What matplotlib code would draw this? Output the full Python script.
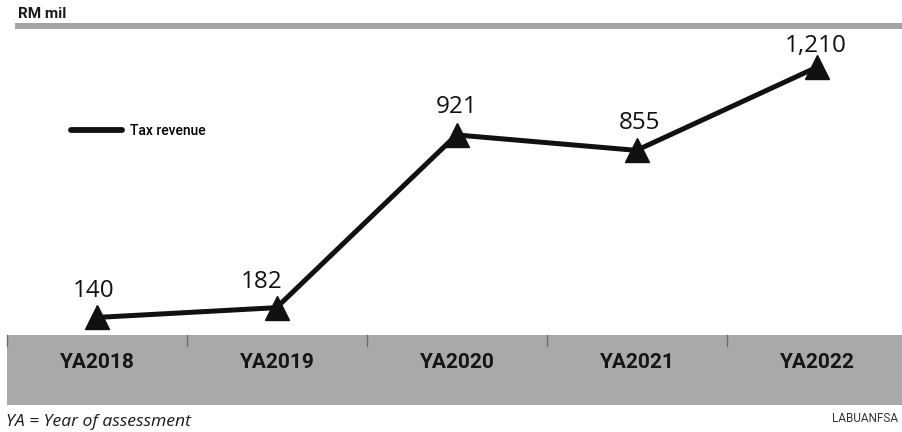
import matplotlib
matplotlib.use("Agg")
import matplotlib.pyplot as plt
from matplotlib.lines import Line2D

# ---- data ----
categories = ["YA2018", "YA2019", "YA2020", "YA2021", "YA2022"]
tax_revenue = [140, 182, 921, 855, 1210]
value_labels = ["140", "182", "921", "855", "1,210"]
series_name = "Tax revenue"
unit_label = "RM mil"
footnote = "YA = Year of assessment"
source = "LABUANFSA"

# ---- styling ----
W, H = 902, 432
DPI = 100
NARROW = ["Roboto", "DejaVu Sans"]
VALFONT = ["Open Sans", "DejaVu Sans"]
band_color = "#a9a9a9"
label_dx_px = [-3, -15, 0, 2.5, -1]
label_dy_px = [20, 20, 22, 21, 15]

fig = plt.figure(figsize=(W / DPI, H / DPI), dpi=DPI)
fig.patch.set_facecolor("white")

def fy(p):
    return 1 - p / H

left = 6.5 / W
width = 900 / W

# category band
band = fig.add_axes([left, fy(405), width, 70 / H], zorder=1)
band.set_facecolor(band_color)
band.set_xlim(-0.5, len(categories) - 0.5)
band.set_ylim(0, 1)
for s in band.spines.values():
    s.set_visible(False)
band.set_yticks([])
band.set_xticks([])
for i in range(len(categories) + 1):
    band.plot([i - 0.5, i - 0.5], [1, 0.84], color="#6e6e6e", lw=1.0, clip_on=False)
for i, c in enumerate(categories):
    band.text(i, 0.61, c, ha="center", va="center", fontsize=15, fontweight="bold",
              color="#151515", family=NARROW)

# main axes
ax = fig.add_axes([left, fy(405), width, (405 - 30) / H], zorder=2)
ax.patch.set_alpha(0)
ax.set_xlim(-0.5, len(categories) - 0.5)
ax.set_ylim(-234.5, 1370)
ax.axis("off")
x = list(range(len(categories)))
ax.plot(x, tax_revenue, color="#111111", lw=3.6, solid_joinstyle="round",
        solid_capstyle="round", marker="^", markersize=17, clip_on=False)
for i, (v, lab) in enumerate(zip(tax_revenue, value_labels)):
    ax.annotate(lab, (i, v),
                xytext=(label_dx_px[i] * 72 / DPI, label_dy_px[i] * 72 / DPI),
                textcoords="offset points", ha="center", va="baseline",
                fontsize=17.5, color="#111111", family=VALFONT)

# legend
handle = Line2D([], [], color="#111111", lw=4.2, solid_capstyle="round")
ax.legend([handle], [series_name], loc="center left",
          bbox_to_anchor=(71 / W, fy(131)), bbox_transform=fig.transFigure,
          frameon=False, borderpad=0, borderaxespad=0, handlelength=3.7,
          handletextpad=0.55, prop={"family": NARROW, "size": 10, "weight": "medium"})

# top rule and unit
fig.add_artist(Line2D([18 / W, 1], [fy(26), fy(26)], color="#a3a3a3", lw=4.3))
fig.text(18 / W, fy(14), unit_label, ha="left", va="center", fontsize=11,
         fontweight="bold", family=NARROW, color="#1a1a1a")

# footnote and source
fig.text(6 / W, fy(422), footnote, ha="left", va="center", fontsize=12.6,
         style="italic", family=VALFONT, color="#1a1a1a")
fig.text(898 / W, fy(418), source, ha="right", va="center", fontsize=8.5,
         family=NARROW, color="#333333")

fig.savefig("out.png", dpi=DPI)
